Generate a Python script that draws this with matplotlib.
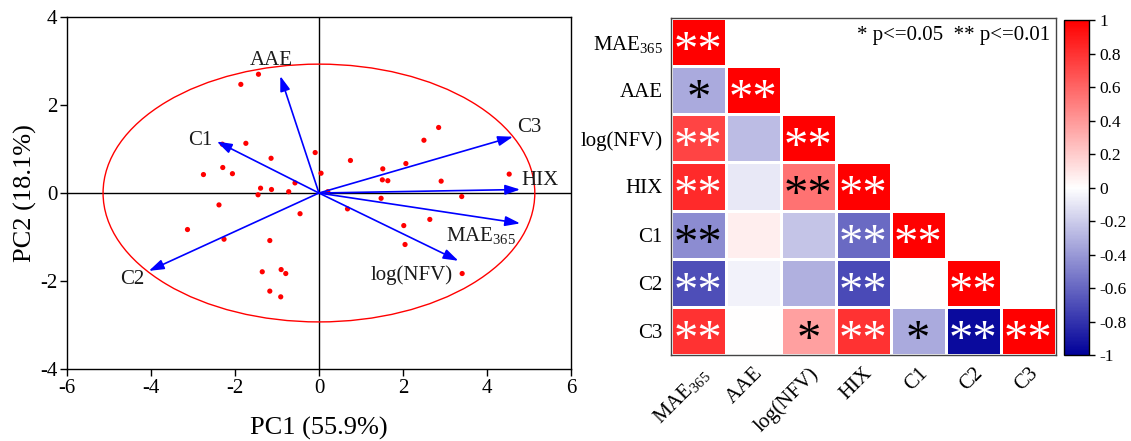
import numpy as np
import matplotlib
matplotlib.use("Agg")
import matplotlib.pyplot as plt
from matplotlib.colors import LinearSegmentedColormap
from matplotlib.patches import Ellipse

plt.rcParams['font.family'] = ['Liberation Serif', 'DejaVu Serif']
plt.rcParams['mathtext.fontset'] = 'custom'
plt.rcParams['mathtext.rm'] = 'Liberation Serif'
plt.rcParams['mathtext.it'] = 'Liberation Serif:italic'
plt.rcParams['mathtext.bf'] = 'Liberation Serif:bold'

# ---------------- PCA biplot data ----------------
score_pc1 = [-1.44, -1.86, 2.85, 2.50, -2.30, -1.74, -0.09, -1.14, 0.75, 2.07,
             1.52, -2.29, -2.75, -2.06, 0.05, 4.53, 1.51, 1.64, 2.91, -0.57,
             -1.39, -1.13, -0.72, -1.45, 0.21, 1.48, 3.40, -2.38, 0.68, -0.45,
             2.64, 2.02, -3.13, -2.26, -1.17, 2.05, -1.35, -0.90, -0.79, 3.41,
             -1.17, -0.91]
score_pc2 = [2.70, 2.47, 1.49, 1.20, 1.11, 1.13, 0.92, 0.79, 0.74, 0.67,
             0.55, 0.58, 0.42, 0.44, 0.45, 0.43, 0.30, 0.28, 0.27, 0.23,
             0.11, 0.08, 0.03, -0.04, 0.03, -0.12, -0.08, -0.27, -0.36, -0.47,
             -0.60, -0.74, -0.83, -1.05, -1.08, -1.17, -1.79, -1.74, -1.83, -1.83,
             -2.23, -2.36]

loading_names = ['AAE', 'C1', 'C3', 'HIX', r'MAE$_{\mathrm{365}}$', 'log(NFV)', 'C2']
loading_pc1 = [-0.92, -2.43, 4.62, 4.79, 4.79, 3.32, -4.05]
loading_pc2 = [2.66, 1.17, 1.28, 0.08, -0.69, -1.54, -1.77]

# ---------------- Correlation matrix data ----------------
variables = [r'MAE$_{\mathrm{365}}$', 'AAE', 'log(NFV)', 'HIX', 'C1', 'C2', 'C3']
corr_rows = [
    [1.00],
    [-0.33, 1.00],
    [0.73, -0.26, 1.00],
    [0.83, -0.09, 0.55, 1.00],
    [-0.45, 0.07, -0.23, -0.58, 1.00],
    [-0.69, -0.05, -0.31, -0.71, 0.00, 1.00],
    [0.80, 0.00, 0.37, 0.80, -0.33, -0.96, 1.00],
]
signif_rows = [
    ['**'],
    ['*', '**'],
    ['**', '', '**'],
    ['**', '', '**', '**'],
    ['**', '', '', '**', '**'],
    ['**', '', '', '**', '', '**'],
    ['**', '', '*', '**', '*', '**', '**'],
]

fig = plt.figure(figsize=(11.31, 4.41), dpi=100)

# ---------------- Left: PCA biplot ----------------
ax = fig.add_axes([0.0592, 0.1633, 0.4456, 0.798])
ax.set_xlim(-6, 6)
ax.set_ylim(-4, 4)
ax.axhline(0, color='black', lw=1.0, zorder=1)
ax.axvline(0, color='black', lw=1.0, zorder=1)
ax.add_patch(Ellipse((0, 0), 2 * 5.14, 2 * 2.93, fill=False, edgecolor='#ff0000', lw=1.0, zorder=2))
ax.scatter(score_pc1, score_pc2, s=14, color='#ff0000', edgecolors='none', zorder=3)

label_style = {
    'AAE': ((-9, 16), 'center'),
    'C1': ((-5, 1), 'right'),
    'C3': ((4, 9), 'left'),
    'HIX': ((1, 9), 'left'),
    r'MAE$_{\mathrm{365}}$': ((-4, -12), 'right'),
    'log(NFV)': ((-6, -14), 'right'),
    'C2': ((-4, -9), 'right'),
}
for name, lx, ly in zip(loading_names, loading_pc1, loading_pc2):
    ax.annotate('', xy=(lx, ly), xytext=(0, 0),
                arrowprops=dict(arrowstyle='-|>,head_length=0.9,head_width=0.3',
                                color='#0000ff', lw=1.2, shrinkA=0, shrinkB=0),
                zorder=4)
    off, ha = label_style[name]
    ax.annotate(name, xy=(lx, ly), xytext=off, textcoords='offset pixels',
                ha=ha, va='center', fontsize=15, color='#1a1a1a', zorder=5)

ax.set_xticks(np.arange(-6, 7, 2))
ax.set_yticks(np.arange(-4, 5, 2))
ax.set_xticklabels([str(v) for v in range(-6, 7, 2)])
ax.set_yticklabels([str(v) for v in range(-4, 5, 2)])
ax.tick_params(direction='out', length=5, width=1, labelsize=15, colors='black', pad=2)
for sp in ax.spines.values():
    sp.set_linewidth(1.0)
ax.set_xlabel('PC1 (55.9%)', fontsize=19, labelpad=14)
ax.set_ylabel('PC2 (18.1%)', fontsize=19, labelpad=2)

# ---------------- Right: correlation heatmap ----------------
n = len(variables)
mat = np.full((n, n), np.nan)
for i, row in enumerate(corr_rows):
    for j, v in enumerate(row):
        mat[i, j] = v
masked = np.ma.masked_invalid(mat)

cmap = LinearSegmentedColormap.from_list('bwr_dark', ['#000099', '#ffffff', '#ff0000'])
hax = fig.add_axes([0.5933, 0.1943, 0.340, 0.766])
mesh = hax.pcolormesh(np.arange(n + 1), np.arange(n + 1), masked, cmap=cmap,
                      vmin=-1, vmax=1, edgecolors='white', linewidth=0.8)
hax.set_xlim(0, n)
hax.set_ylim(n, 0)
for i, row in enumerate(signif_rows):
    for j, s in enumerate(row):
        if not s:
            continue
        v = corr_rows[i][j]
        c = 'white' if abs(v) >= 0.57 else 'black'
        hax.annotate(s, xy=(j + 0.5, i + 0.5), xytext=(0, -10), textcoords='offset pixels',
                     ha='center', va='center', fontsize=35, color=c)

hax.set_xticks(np.arange(n) + 0.5)
hax.set_yticks(np.arange(n) + 0.5)
hax.set_xticklabels(variables, rotation=45, ha='right', rotation_mode='anchor')
hax.set_yticklabels(variables)
hax.tick_params(length=0, labelsize=15, pad=6)
for sp in hax.spines.values():
    sp.set_color('#444444')
    sp.set_linewidth(1.0)
hax.text(0.985, 0.975, '* p<=0.05  ** p<=0.01', transform=hax.transAxes,
         ha='right', va='top', fontsize=15)

cax = fig.add_axes([0.9408, 0.1943, 0.0217, 0.7596])
cb = fig.colorbar(mesh, cax=cax)
cb.set_ticks(np.round(np.arange(-1, 1.01, 0.2), 1))
cb.set_ticklabels(['-1', '-0.8', '-0.6', '-0.4', '-0.2', '0', '0.2', '0.4', '0.6', '0.8', '1'])
cb.outline.set_linewidth(1.0)
cax.tick_params(direction='out', length=4, width=1, labelsize=12.5)

fig.savefig('out.png', dpi=100, facecolor='white')
